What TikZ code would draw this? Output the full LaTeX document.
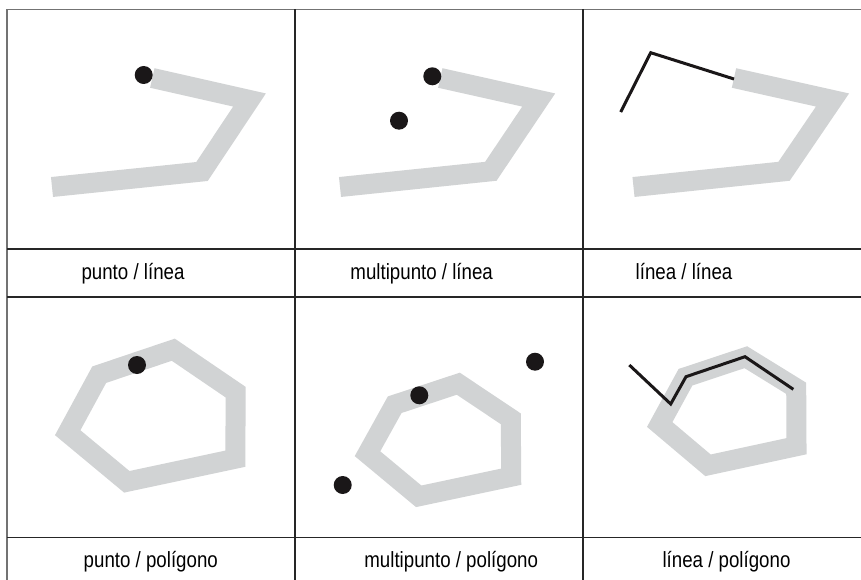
\documentclass[tikz,border=0pt]{standalone}
\usepackage{fontspec}
\setmainfont{Liberation Sans}[FakeStretch=0.85]
\begin{document}
\begin{tikzpicture}[x=1pt,y=-1pt,
  frameline/.style={draw=black!55,line width=1.5pt},
  gridline/.style={draw=black!85,line width=1.3pt},
  feature/.style={draw=featgray,line width=20pt,line join=miter,line cap=butt},
  geomline/.style={draw=inkblack,line width=3pt,line join=miter,line cap=butt},
  pointmark/.style={circle,fill=inkblack,inner sep=0pt,minimum size=18pt},
  caption/.style={anchor=base,inner sep=0pt,font=\fontsize{22}{26}\selectfont}]
\definecolor{featgray}{HTML}{D1D3D4}
\definecolor{inkblack}{HTML}{1A1718}
\useasboundingbox (0,0) rectangle (861,580);
\fill[white] (0,0) rectangle (861,580);

% --- table frame ---
\draw[frameline] (7,9.5) -- (861,9.5);
\draw[frameline] (7,9.5) -- (7,580);
\draw[gridline] (295,9.5) -- (295,580);
\draw[gridline] (583,9.5) -- (583,580);
\draw[gridline] (7,249) -- (861,249);
\draw[gridline] (7,297) -- (861,297);
\draw[gridline] (7,537.5) -- (861,537.5);

% --- row 1: reference line ---
\draw[feature] (152.3,78) -- (249.5,100) -- (202,171.5) -- (52,187);
\draw[feature] (440.3,78) -- (538.7,100) -- (490.8,171.3) -- (340,187);
\draw[feature] (734,78) -- (832.5,100) -- (784,171.3) -- (633.5,187);

\node[pointmark] (p1) at (143.7,75) {};
\node[pointmark] (mp1a) at (432.3,76.3) {};
\node[pointmark] (mp1b) at (399,120.7) {};
\draw[geomline] (620.7,112) -- (650.7,52.7) -- (734,79);

% --- row 2: reference polygon ---
\draw[feature] (99.2,374.7) -- (173.3,349.7) -- (235.7,392.2) -- (235.3,458.7) -- (126.8,481.8) -- (67.7,432.7) -- cycle;
\draw[feature] (394.7,404.7) -- (458.3,383.7) -- (510.8,418.8) -- (511.2,476.7) -- (418.7,496.3) -- (367.5,453.7) -- cycle;
\draw[feature] (685.5,377.2) -- (745.8,357.2) -- (796.2,388.3) -- (796.5,446.2) -- (708,465.3) -- (659.7,424.5) -- cycle;

\node[pointmark] (p2) at (137,365) {};
\node[pointmark] (mp2a) at (535,361.7) {};
\node[pointmark] (mp2b) at (419.3,395.3) {};
\node[pointmark] (mp2c) at (342.7,485) {};
\draw[geomline] (629.3,365) -- (670.7,404) -- (686,376.7) -- (745,356.7) -- (793.3,389.3);

% --- captions ---
\node[caption] (c1) at (133,279.3) {punto / línea};
\node[caption] (c2) at (421.7,279.3) {multipunto / línea};
\node[caption] (c3) at (684,279.3) {línea / línea};
\node[caption] (c4) at (150.8,567.5) {punto / polígono};
\node[caption] (c5) at (451.2,567.5) {multipunto / polígono};
\node[caption] (c6) at (726.5,567.5) {línea / polígono};
\end{tikzpicture}
\end{document}
